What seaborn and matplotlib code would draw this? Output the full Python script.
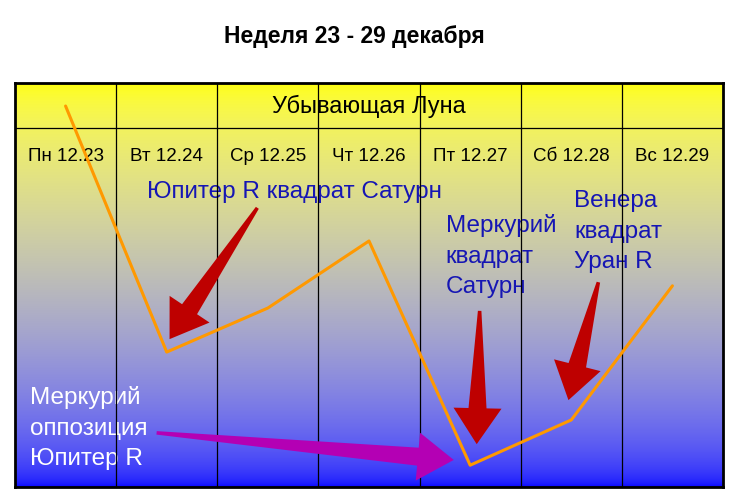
import numpy as np
import pandas as pd
import matplotlib
matplotlib.use("Agg")
import matplotlib.pyplot as plt
import seaborn as sns
from matplotlib.patches import Polygon

# ---------------- data ----------------
days = ["Пн 12.23", "Вт 12.24", "Ср 12.25", "Чт 12.26", "Пт 12.27", "Сб 12.28", "Вс 12.29"]
values = [94.3, 33.4, 44.3, 60.9, 5.4, 16.6, 49.8]
title = "Неделя 23 - 29 декабря"
header = "Убывающая Луна"

# annotations: (text, x, y of last baseline, color)
notes = [
    ("Юпитер R квадрат Сатурн", 0.81, 71.6, "#1616B4"),
    ("Меркурий\nквадрат\nСатурн", 3.76, 48.0, "#1616B4"),
    ("Венера\nквадрат\nУран R", 5.03, 54.2, "#1616B4"),
    ("Меркурий\nоппозиция\nЮпитер R", -0.35, 5.4, "white"),
]
# arrows: (tail_x, tail_y, tip_x, tip_y, color)
arrows = [
    (1.896, 69.1, 1.028, 36.6, "#BE0000"),
    (4.094, 43.6, 4.065, 10.6, "#BE0000"),
    (5.268, 50.7, 4.972, 21.5, "#BE0000"),
    (0.900, 13.4, 3.838, 6.7, "#B400B4"),
]
header_y = 88.9

# ---------------- style ----------------
sns.set_style("white")
plt.rcParams["font.family"] = ["Liberation Sans", "DejaVu Sans"]

fig = plt.figure(figsize=(7.38, 5.03), dpi=100)
ax = fig.add_axes([15 / 738, 16 / 503, 708 / 738, 404 / 503])
ax.set_xlim(-0.5, 6.5)
ax.set_ylim(0, 100)

# gradient background (yellow -> blue, linear-light blend)
t = np.linspace(0, 1, 400)[:, None]
g = 1 / 2.2
img = np.dstack([(1 - t) ** g, (1 - t) ** g, t ** g])
ax.imshow(img, extent=(-0.5, 6.5, 0, 100), aspect="auto", origin="upper", zorder=0)

# grid lines
for i in range(len(days) - 1):
    ax.axvline(i + 0.5, color="black", lw=0.9, zorder=2)
ax.axhline(header_y, color="black", lw=0.9, zorder=2)

# header texts
ax.text(3, 94.3, header, ha="center", va="center", fontsize=17, color="black", zorder=1)
for i, d in enumerate(days):
    ax.text(i, 81.9, d, ha="center", va="center", fontsize=13.5, color="black", zorder=1)

# annotation texts
for txt, x, y, c in notes:
    ax.text(x, y, txt, ha="left", va="baseline", fontsize=17.5, color=c,
            linespacing=1.5, zorder=1)

# orange line
df = pd.DataFrame({"x": np.arange(len(days)), "y": values})
sns.lineplot(data=df, x="x", y="y", ax=ax, color="#FF9900", lw=2.2, zorder=3)

# arrows (wedge-shaped, drawn in display pixels)
def wedge_arrow(x0, y0, x1, y1, color):
    p0 = ax.transData.transform((x0, y0))
    p1 = ax.transData.transform((x1, y1))
    d = p1 - p0
    L = np.hypot(*d)
    u = d / L
    n = np.array([-u[1], u[0]])
    head_len, head_w, w0, w1 = 36, 48, 3.5, 18
    base = p1 - u * head_len
    pts = [p0 + n * w0 / 2, base + n * w1 / 2, base + n * head_w / 2, p1,
           base - n * head_w / 2, base - n * w1 / 2, p0 - n * w0 / 2]
    fig.patches.append(Polygon(pts, closed=True, facecolor=color, edgecolor="none",
                               transform=None, zorder=4, figure=fig))

for x0, y0, x1, y1, c in arrows:
    wedge_arrow(x0, y0, x1, y1, c)

ax.set_xlabel("")
ax.set_ylabel("")
ax.set_xticks([])
ax.set_yticks([])
for s in ax.spines.values():
    s.set_visible(True)
    s.set_color("black")
    s.set_linewidth(2)
    s.set_zorder(5)

fig.text(354 / 738, 1 - 43 / 503, title, ha="center", va="baseline", fontsize=16.5,
         fontweight="bold", color="black")

fig.savefig("out.png", dpi=100)
